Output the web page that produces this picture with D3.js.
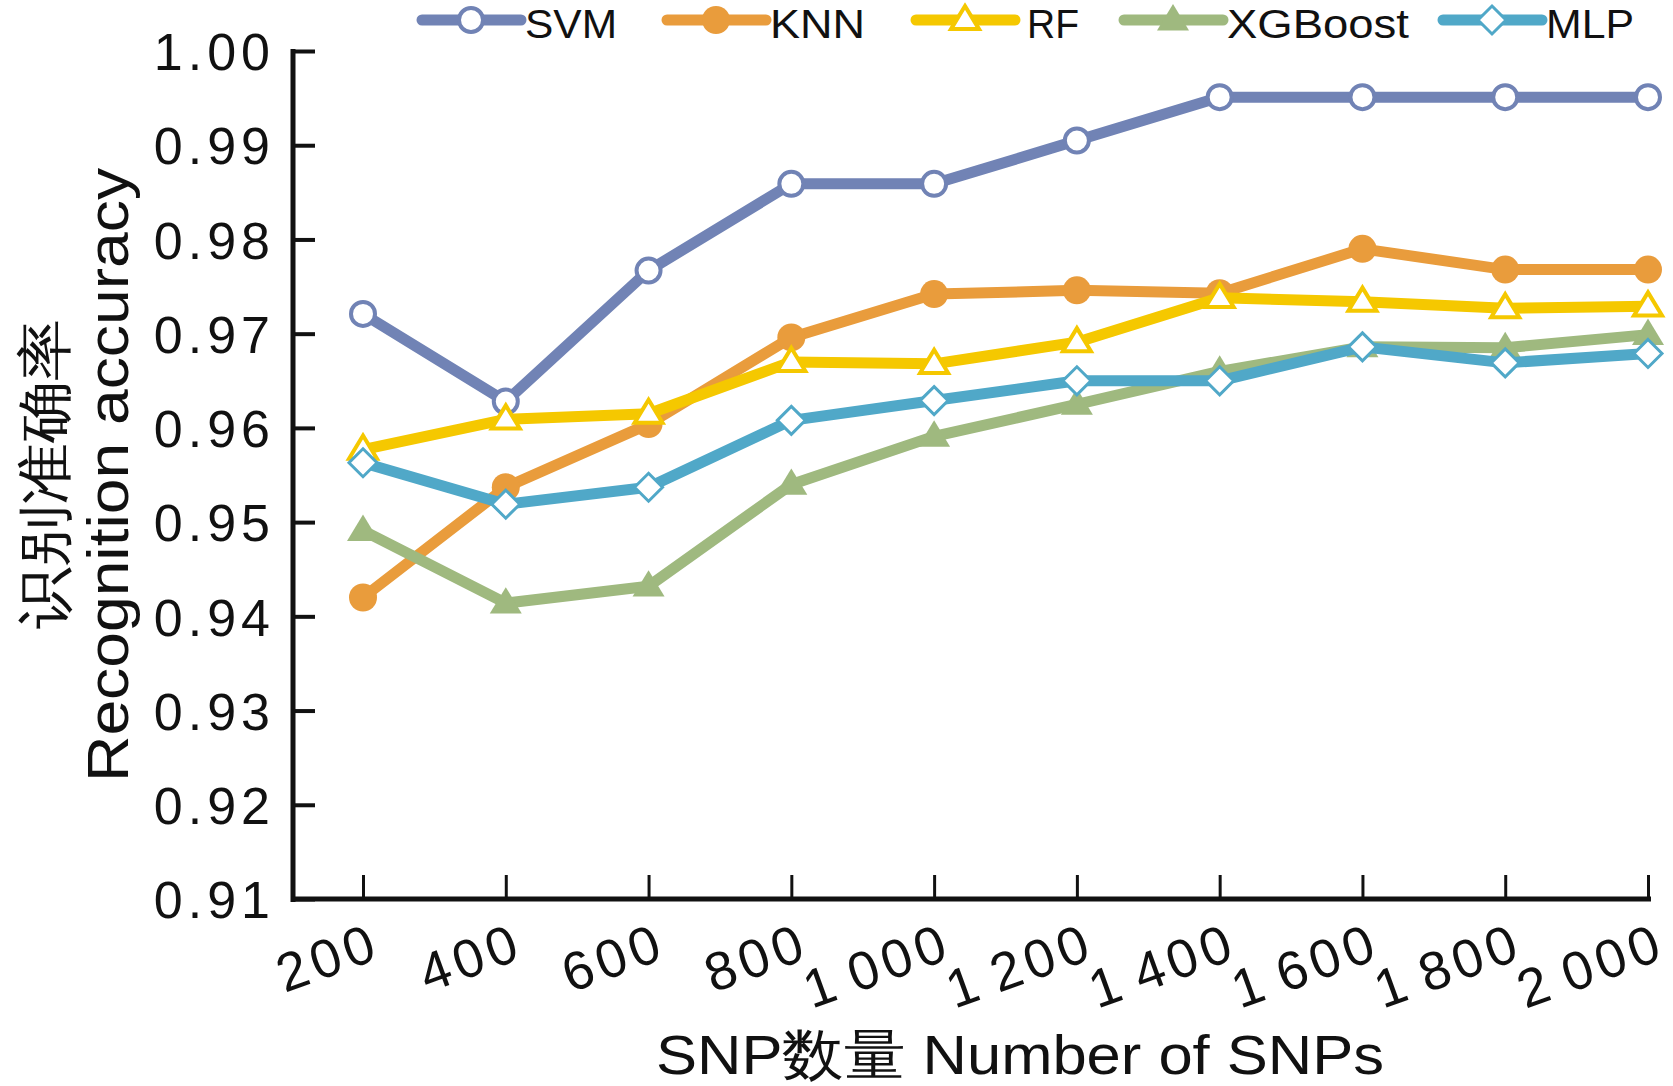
<!DOCTYPE html>
<html>
<head>
<meta charset="utf-8">
<script src="https://cdn.jsdelivr.net/npm/d3@7"></script>
<style>
  body { margin: 0; background: #fff; }
  svg { display: block; }
  text { font-family: "Liberation Sans", Arial, sans-serif; fill: #111; }
</style>
</head>
<body>
<svg id="chart" width="1673" height="1086"></svg>
<script>
// number of SNPs on the x axis
const snpCounts = [200, 400, 600, 800, 1000, 1200, 1400, 1600, 1800, 2000];
const yTicks = [0.91, 0.92, 0.93, 0.94, 0.95, 0.96, 0.97, 0.98, 0.99, 1.00];

// recognition accuracy per model
const svmAcc     = [0.9721, 0.9628, 0.9767, 0.9859, 0.9859, 0.9905, 0.9951, 0.9951, 0.9951, 0.9951];
const knnAcc     = [0.9420, 0.9537, 0.9604, 0.9696, 0.9742, 0.9746, 0.9743, 0.9790, 0.9768, 0.9768];
const rfAcc      = [0.9577, 0.9609, 0.9615, 0.9670, 0.9668, 0.9691, 0.9738, 0.9734, 0.9727, 0.9729];
const xgboostAcc = [0.9491, 0.9414, 0.9432, 0.9540, 0.9591, 0.9625, 0.9660, 0.9686, 0.9685, 0.9699];
const mlpAcc     = [0.9563, 0.9519, 0.9537, 0.9608, 0.9629, 0.9650, 0.9650, 0.9686, 0.9669, 0.9679];

const series = [
  { name: "SVM",     values: svmAcc,     color: "#7183b5", marker: "circle",   filled: false },
  { name: "KNN",     values: knnAcc,     color: "#e99c3c", marker: "circle",   filled: true },
  { name: "RF",      values: rfAcc,      color: "#f5c800", marker: "triangle", filled: false },
  { name: "XGBoost", values: xgboostAcc, color: "#9fb97f", marker: "triangle", filled: true },
  { name: "MLP",     values: mlpAcc,     color: "#50a8c8", marker: "diamond",  filled: false }
];

const svg = d3.select("#chart");

const x = d3.scaleLinear().domain([200, 2000]).range([363, 1648]);
const y = d3.scaleLinear().domain([0.91, 1.00]).range([899, 51]);
const axisX0 = 293;

// y axis, ticks pointing inwards
const yAxis = d3.axisLeft(y).tickValues(yTicks).tickFormat(d3.format(".2f"))
  .tickSizeInner(-22).tickSizeOuter(0).tickPadding(18);
const gy = svg.append("g").attr("transform", "translate(" + axisX0 + ",0)").call(yAxis);
gy.select(".domain").remove();
gy.selectAll(".tick line").attr("stroke", "#111").attr("stroke-width", 4);
gy.selectAll(".tick text")
  .style("font-size", "52px")
  .style("letter-spacing", "5px")
  .attr("dy", "0.36em")
  .attr("fill", "#111");

// x axis
const xAxis = d3.axisBottom(x).tickValues(snpCounts).tickSizeInner(-24).tickSizeOuter(0);
const gx = svg.append("g").attr("transform", "translate(0,899)").call(xAxis);
gx.select(".domain").remove();
gx.selectAll(".tick line").attr("stroke", "#111").attr("stroke-width", 3);

// labels like "1 000": thousands part and rest as separate tspans
gx.selectAll(".tick text").each(function(d) {
  const t = d3.select(this).text("");
  if (d >= 1000) {
    t.append("tspan").text(Math.floor(d / 1000));
    t.append("tspan").attr("dx", 12).text(d3.format("03d")(d % 1000));
  } else {
    t.append("tspan").text(d);
  }
});
gx.selectAll(".tick text")
  .style("font-size", "54px")
  .style("letter-spacing", "5px")
  .attr("text-anchor", "end")
  .attr("fill", "#111")
  .attr("y", 0).attr("dy", 0)
  .attr("transform", "translate(20,58) rotate(-20)");

// axis lines
svg.append("line").attr("x1", axisX0).attr("x2", axisX0).attr("y1", y(1.00) - 2).attr("y2", y(0.91) + 3)
  .attr("stroke", "#111").attr("stroke-width", 5);
svg.append("line").attr("x1", axisX0 - 2).attr("x2", x(2000) + 3).attr("y1", y(0.91)).attr("y2", y(0.91))
  .attr("stroke", "#111").attr("stroke-width", 5);

// axis titles
svg.append("text")
  .attr("x", 1020).attr("y", 1074)
  .attr("text-anchor", "middle")
  .attr("textLength", 728).attr("lengthAdjust", "spacingAndGlyphs")
  .style("font-size", "56px")
  .text("SNP数量 Number of SNPs");

svg.append("text")
  .attr("transform", "translate(64,474) rotate(-90)")
  .attr("text-anchor", "middle")
  .attr("textLength", 310).attr("lengthAdjust", "spacingAndGlyphs")
  .style("font-size", "56px")
  .text("识别准确率");

svg.append("text")
  .attr("transform", "translate(128,475) rotate(-90)")
  .attr("text-anchor", "middle")
  .attr("textLength", 614).attr("lengthAdjust", "spacingAndGlyphs")
  .style("font-size", "58px")
  .text("Recognition accuracy");

function drawMarker(g, kind, filled, color, cx, cy) {
  const fill = filled ? color : "#fff";
  if (kind === "circle") {
    g.append("circle").attr("cx", cx).attr("cy", cy).attr("r", filled ? 14 : 12)
      .attr("fill", fill).attr("stroke", color).attr("stroke-width", filled ? 0 : 4);
  } else if (kind === "triangle") {
    const s = filled ? 16 : 14;
    g.append("path")
      .attr("d", "M" + cx + "," + (cy - s) + "L" + (cx + s) + "," + (cy + s * 0.65) + "L" + (cx - s) + "," + (cy + s * 0.65) + "Z")
      .attr("fill", fill).attr("stroke", color).attr("stroke-width", filled ? 0 : 4).attr("stroke-linejoin", "miter");
  } else {
    const s = 14;
    g.append("path")
      .attr("d", "M" + cx + "," + (cy - s) + "L" + (cx + s) + "," + cy + "L" + cx + "," + (cy + s) + "L" + (cx - s) + "," + cy + "Z")
      .attr("fill", fill).attr("stroke", color).attr("stroke-width", 3);
  }
}

const line = d3.line().x((d, i) => x(snpCounts[i])).y(d => y(d));

series.forEach(function(s) {
  const g = svg.append("g");
  g.append("path").datum(s.values)
    .attr("d", line)
    .attr("fill", "none")
    .attr("stroke", s.color)
    .attr("stroke-width", 11)
    .attr("stroke-linejoin", "round");
  s.values.forEach(function(v, i) {
    drawMarker(g, s.marker, s.filled, s.color, x(snpCounts[i]), y(v));
  });
});

// legend
const legendX = [422, 667, 916, 1124, 1443];
const legendY = 20;
series.forEach(function(s, i) {
  const g = svg.append("g");
  const x0 = legendX[i];
  g.append("line").attr("x1", x0).attr("x2", x0 + 99).attr("y1", legendY).attr("y2", legendY)
    .attr("stroke", s.color).attr("stroke-width", 11).attr("stroke-linecap", "round");
  drawMarker(g, s.marker, s.filled, s.color, x0 + 49, legendY);
  g.append("text")
    .attr("x", x0 + 103 + (s.name === "RF" ? 8 : 0)).attr("y", 38)
    .attr("textLength", { SVM: 92, KNN: 95, RF: 52, XGBoost: 182, MLP: 88 }[s.name])
    .attr("lengthAdjust", "spacingAndGlyphs")
    .style("font-size", "41px")
    .text(s.name);
});
</script>
</body>
</html>
